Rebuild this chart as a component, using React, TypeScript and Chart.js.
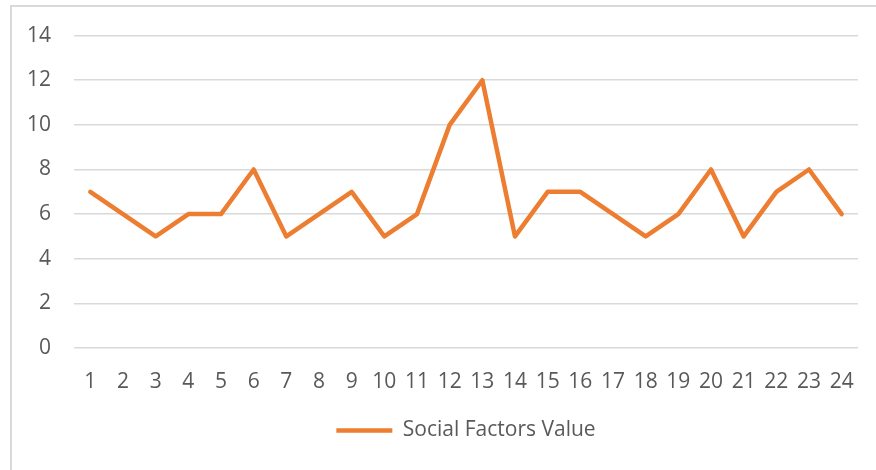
import React, { useEffect, useRef } from "react";
import { Chart, registerables } from "chart.js";

Chart.register(...registerables);

const categories = ["1","2","3","4","5","6","7","8","9","10","11","12","13","14","15","16","17","18","19","20","21","22","23","24"];
const socialFactorsValue = [7, 6, 5, 6, 6, 8, 5, 6, 7, 5, 6, 10, 12, 5, 7, 7, 6, 5, 6, 8, 5, 7, 8, 6];
const seriesName = "Social Factors Value";
const yMin = 0;
const yMax = 14;
const yStep = 2;

const FONT = "'Open Sans', 'Noto Sans', sans-serif";
const TEXT = "#595959";
const GRID = "#d9d9d9";
const ORANGE = "#ED7D31";

export default function App() {
  const ref = useRef<HTMLCanvasElement | null>(null);
  useEffect(() => {
    if (!ref.current) return;
    const chart = new Chart(ref.current, {
      type: "line",
      data: {
        labels: categories,
        datasets: [
          {
            label: seriesName,
            data: socialFactorsValue,
            borderColor: ORANGE,
            backgroundColor: ORANGE,
            borderWidth: 4.5,
            borderCapStyle: "round",
            borderJoinStyle: "round",
            pointRadius: 0,
            pointHoverRadius: 0,
            tension: 0,
            fill: false,
          },
        ],
      },
      options: {
        responsive: false,
        animation: false,
        layout: { padding: { left: 0, right: 18, top: 35, bottom: 19 } },
        scales: {
          x: {
            offset: true,
            grid: { display: false, drawTicks: false },
            border: { display: false },
            ticks: { color: TEXT, font: { family: FONT, size: 21 }, padding: 21, maxRotation: 0, autoSkip: false },
            afterFit: (s: any) => { s.height = 62; },
          },
          y: {
            min: yMin,
            max: yMax,
            grid: { color: GRID, lineWidth: 1.5, drawTicks: false },
            border: { display: false },
            ticks: { stepSize: yStep, color: TEXT, font: { family: FONT, size: 21 }, padding: 23 },
            afterFit: (s: any) => { s.width = 74; },
          },
        },
        plugins: {
          legend: {
            position: "bottom",
            fullSize: false,
            labels: {
              color: TEXT,
              font: { family: FONT, size: 21 },
              usePointStyle: true,
              pointStyle: "line",
              pointStyleWidth: 56,
              padding: 10,
            },
          },
          tooltip: { enabled: false },
        },
      } as any,
    });
    return () => chart.destroy();
  }, []);
  return (
    <div style={{ position: "fixed", left: 0, top: 0, width: 876, height: 470, background: "#fff" }}>
      <div style={{ position: "absolute", left: 10, top: 5, width: 866, height: 465, borderTop: `2px solid ${GRID}`, borderLeft: `2px solid ${GRID}`, boxSizing: "border-box" }} />
      <canvas ref={ref} width={876} height={470} style={{ position: "absolute", left: 0, top: 0 }} />
    </div>
  );
}
